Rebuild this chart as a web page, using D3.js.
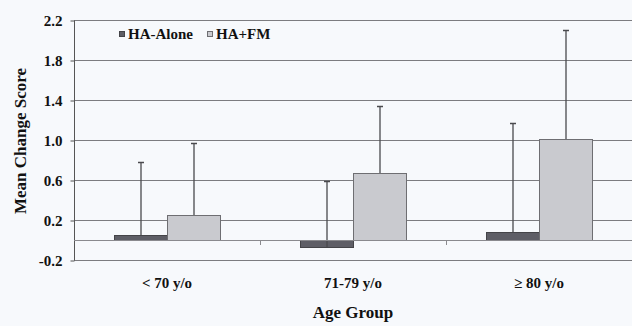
<!DOCTYPE html>
<html><head><meta charset="utf-8">
<script src="https://cdn.jsdelivr.net/npm/d3@7"></script>
<style>html,body{margin:0;padding:0;background:#f7f9fc;}svg{display:block;}</style>
</head><body>
<svg id="c" width="632" height="326"></svg>
<script>
const categories = ["< 70 y/o", "71-79 y/o", "\u2265 80 y/o"];
const seriesNames = ["HA-Alone", "HA+FM"];
const haAlone = [0.05, -0.07, 0.08];
const haFM = [0.25, 0.67, 1.01];
const haAloneErrTop = [0.78, 0.59, 1.17];
const haFMErrTop = [0.97, 1.34, 2.10];
const yTicks = [-0.2, 0.2, 0.6, 1.0, 1.4, 1.8, 2.2];
const yTickLabels = ["-0.2", "0.2", "0.6", "1.0", "1.4", "1.8", "2.2"];
const colors = ["#5e5e66", "#c9cacf"];
const strokes = ["#444448", "#6e6e72"];

const svg = d3.select("#c");
svg.append("rect").attr("width",632).attr("height",326).attr("fill","#f7f9fc");
const L = 74, R = 632, T = 20, B = 260;
const y = d3.scaleLinear().domain([-0.2, 2.2]).range([B, T]);
const x0 = d3.scaleBand().domain(categories).range([L, R]).paddingInner(0).paddingOuter(0);
const x1 = d3.scaleBand().domain(seriesNames).range([40, x0.bandwidth() - 40]).padding(0);
const font = "Liberation Serif, Times New Roman, serif";

// gridlines
svg.append("g").selectAll("line").data(yTicks).join("line")
  .attr("x1", L).attr("x2", R)
  .attr("y1", d => Math.round(y(d)) + 0.5).attr("y2", d => Math.round(y(d)) + 0.5)
  .attr("stroke", "#7c7c80").attr("stroke-width", 1);

// y axis
const yAxis = d3.axisLeft(y).tickValues(yTicks).tickFormat((d, i) => yTickLabels[i]).tickSize(4).tickPadding(8);
const ga = svg.append("g").attr("transform", `translate(${L + 0.5},0.5)`).call(yAxis);
ga.select(".domain").attr("stroke", "#555").attr("d", `M0,${T}V${B}`);
ga.selectAll(".tick line").attr("stroke", "#555");
ga.selectAll(".tick text").attr("font-family", font).attr("font-weight", "bold")
  .attr("font-size", 15).attr("fill", "#111").attr("dy", "0.35em");

// bars
const data = categories.map((c, i) => ({c, vals: [
  {s: seriesNames[0], v: haAlone[i], e: haAloneErrTop[i], k: 0},
  {s: seriesNames[1], v: haFM[i], e: haFMErrTop[i], k: 1}]}));
const g = svg.append("g").selectAll("g").data(data).join("g")
  .attr("transform", d => `translate(${x0(d.c)},0)`);
g.selectAll("rect").data(d => d.vals).join("rect")
  .attr("x", d => x1(d.s) + 0.5)
  .attr("width", x1.bandwidth())
  .attr("y", d => Math.min(y(d.v), y(0)) + 0.5)
  .attr("height", d => Math.abs(y(d.v) - y(0)))
  .attr("fill", d => colors[d.k]).attr("stroke", d => strokes[d.k]).attr("stroke-width", 1);

// zero (category) axis
svg.append("line").attr("x1", L).attr("x2", R).attr("y1", y(0) + 0.5).attr("y2", y(0) + 0.5)
  .attr("stroke", "#8a8a8e").attr("stroke-width", 1);
svg.append("g").selectAll("line").data(categories.slice(1)).join("line")
  .attr("x1", d => x0(d) + 0.5).attr("x2", d => x0(d) + 0.5)
  .attr("y1", y(0)).attr("y2", y(0) + 5).attr("stroke", "#8a8a8e");

// error bars
const eb = g.selectAll("g.err").data(d => d.vals).join("g").attr("class", "err");
eb.append("line")
  .attr("x1", d => x1(d.s) + x1.bandwidth() / 2 + 0.5)
  .attr("x2", d => x1(d.s) + x1.bandwidth() / 2 + 0.5)
  .attr("y1", d => y(d.v)).attr("y2", d => y(d.e))
  .attr("stroke", "#4a4a4e").attr("stroke-width", 1.3);
eb.append("line")
  .attr("x1", d => x1(d.s) + x1.bandwidth() / 2 - 2.5)
  .attr("x2", d => x1(d.s) + x1.bandwidth() / 2 + 3.5)
  .attr("y1", d => y(d.e) + 0.5).attr("y2", d => y(d.e) + 0.5)
  .attr("stroke", "#4a4a4e").attr("stroke-width", 1.5);

// category labels
svg.append("g").selectAll("text").data(categories).join("text")
  .attr("x", d => x0(d) + x0.bandwidth() / 2).attr("y", 288)
  .attr("text-anchor", "middle").attr("font-family", font).attr("font-weight", "bold")
  .attr("font-size", 15).attr("fill", "#111").text(d => d);

// axis titles
svg.append("text").attr("x", (L + R) / 2).attr("y", 318).attr("text-anchor", "middle")
  .attr("font-family", font).attr("font-weight", "bold").attr("font-size", 17).attr("fill", "#111")
  .text("Age Group");
svg.append("text").attr("transform", `translate(26,141) rotate(-90)`).attr("text-anchor", "middle")
  .attr("font-family", font).attr("font-weight", "bold").attr("font-size", 17).attr("fill", "#111")
  .text("Mean Change Score");

// legend
const legX = [119, 207];
const lg = svg.append("g").selectAll("g").data(seriesNames).join("g")
  .attr("transform", (d, i) => `translate(${legX[i]},31)`);
lg.append("rect").attr("x", 0.5).attr("y", 0.5).attr("width", 5).attr("height", 5)
  .attr("fill", (d, i) => colors[i]).attr("stroke", (d, i) => strokes[i]);
lg.append("text").attr("x", 9).attr("y", 3).attr("dy", "0.35em")
  .attr("font-family", font).attr("font-weight", "bold").attr("font-size", 15).attr("fill", "#111")
  .text(d => d);
</script>
</body></html>
